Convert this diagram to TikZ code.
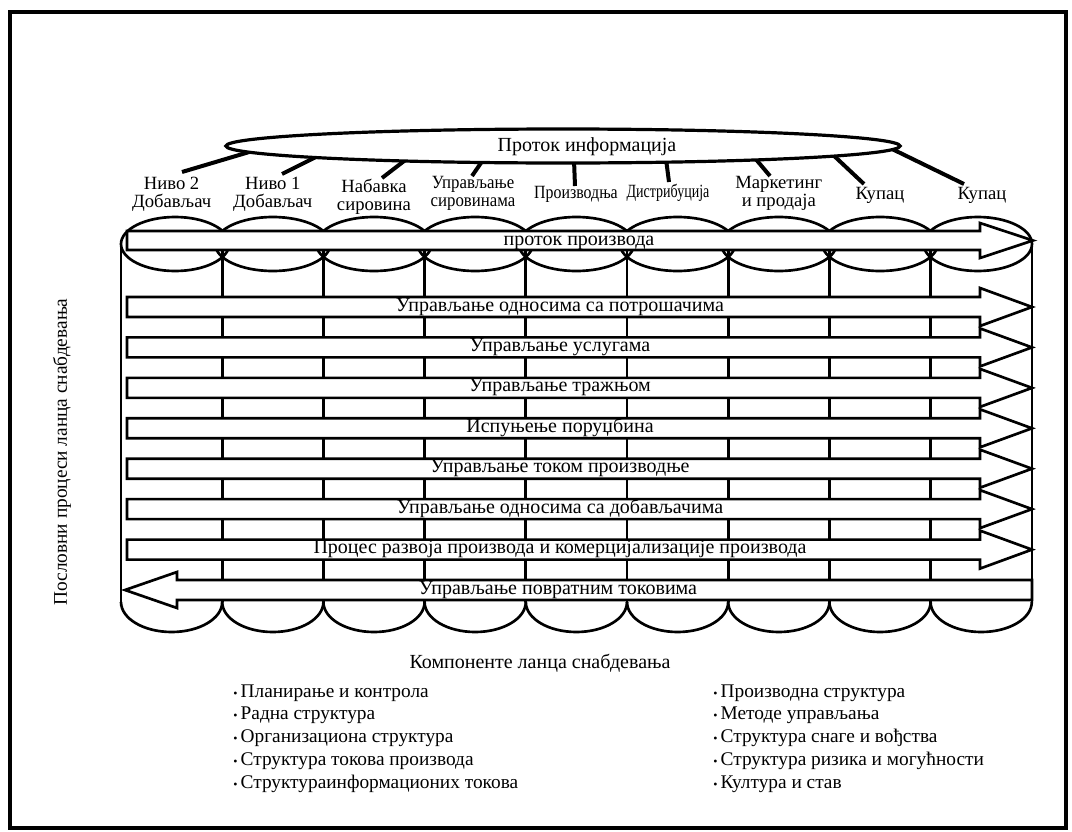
\documentclass[tikz,border=0pt]{standalone}
\usepackage{fontspec}
\usepackage{graphicx}
\setmainfont{Liberation Serif}
\usetikzlibrary{shapes.geometric}

\begin{document}
\begin{tikzpicture}[x=0.75pt,y=-0.75pt,
  cyl/.style={line width=2pt},
  arrowbox/.style={draw, fill=white, line width=2pt, line join=miter},
  conn/.style={line width=3pt},
  lbl/.style={font=\fontsize{14}{13.5}\selectfont, align=center, inner sep=0pt},
  atext/.style={font=\fontsize{15}{17}\selectfont, inner sep=0pt, anchor=base},
  btext/.style={font=\fontsize{14.5}{17}\selectfont, inner sep=0pt, anchor=base west}]
\useasboundingbox (0,0) rectangle (1072,832);
\draw[line width=3pt] (10,12) rectangle (1066,828);

% --- cylinder body: column walls, side walls
\foreach \x in {222.2,323.4,424.6,525.8,627,728.2,829.4,930.6}
  \draw[cyl] (\x,250) -- (\x,602);
\draw[cyl] (121,244) -- (121,602);
\draw[cyl] (1032,244) -- (1032,602);

% --- top rims (one ellipse per column)
\foreach \cx/\a in {175.1/54.1,272.8/57.6,374/57.6,475.2/57.6,576.4/57.6,677.6/57.6,778.8/57.6,880/57.6,977.8/54.2}
  \draw[cyl] (\cx,244) ellipse [x radius=\a, y radius=27];

% --- bottom rims
\foreach \x in {121,222.2,323.4,424.6,525.8,627,728.2,829.4,930.6}
  \draw[cyl] (\x,602) arc[start angle=180, end angle=0, x radius=50.6, y radius=30];

% --- product flow arrow
\draw[arrowbox] (127,231) -- (980,231) -- (980,223) -- (1033,240.5) -- (980,258) -- (980,250) -- (127,250) -- cycle;
\node[atext] (flow) at (579,245) {проток производа};

% --- process arrows
\foreach \yc/\nm/\t in {
  307/p1/{Управљање односима са потрошачима},
  347.4/p2/{Управљање услугама},
  387.9/p3/{Управљање тражњом},
  428.3/p4/{Испуњење поруџбина},
  468.7/p5/{Управљање током производње},
  509.1/p6/{Управљање односима са добављачима},
  549.6/p7/{Процес развоја производа и комерцијализације производа}} {
  \draw[arrowbox] (127,\yc-10) -- (980,\yc-10) -- (980,\yc-19) -- (1032,\yc)
     -- (980,\yc+19) -- (980,\yc+10) -- (127,\yc+10) -- cycle;
  \node[atext] (\nm) at (560,\yc+4) {\t};
}
% --- returns arrow (pointing left)
\draw[arrowbox] (1032,580) -- (177,580) -- (177,572) -- (125,590) -- (177,608) -- (177,600) -- (1032,600) -- cycle;
\node[atext] (ret) at (558,594) {Управљање повратним токовима};

% --- column labels
\node[lbl, anchor=north] (l1) at (171.6,177) {Ниво 2\\Добављач};
\node[lbl, anchor=north] (l2) at (272.8,177) {Ниво 1\\Добављач};
\node[lbl, anchor=north] (l3) at (374,179) {Набавка\\сировина};
\node[lbl, anchor=north] (l4) at (473,176) {\scalebox{0.9}[1]{Управљање}\\\scalebox{0.9}[1]{сировинама}};
\node[lbl, anchor=base] (l5) at (576,198) {\scalebox{0.85}[1]{Производња}};
\node[lbl, anchor=base] (l6) at (668,197) {\scalebox{0.75}[1]{Дистрибуција}};
\node[lbl, anchor=north] (l7) at (778.8,176) {Маркетинг\\и продаја};
\node[lbl, anchor=base] (l8) at (880,199) {Купац};
\node[lbl, anchor=base] (l9) at (982,199) {Купац};

% --- information flow links
\coordinate (s1) at (256,150);  \coordinate (e1) at (182,172);
\coordinate (s2) at (320,155);  \coordinate (e2) at (282,174);
\coordinate (s3) at (408,158);  \coordinate (e3) at (382,178);
\coordinate (s4) at (483,160);  \coordinate (e4) at (472,176);
\coordinate (s5) at (574,160);  \coordinate (e5) at (575,186);
\coordinate (s6) at (666,159);  \coordinate (e6) at (669,182);
\coordinate (s7) at (754,157);  \coordinate (e7) at (770,176);
\coordinate (s8) at (831,153);  \coordinate (e8) at (864,184);
\coordinate (s9) at (890,148);  \coordinate (e9) at (964,184);
\foreach \k in {1,...,9} \draw[conn] (s\k) -- (e\k);

\node[draw, ellipse, fill=white, line width=2.4pt, inner sep=0pt,
      minimum width=505.5pt, minimum height=25.5pt] (info) at (563,146) {};
\node[atext] (infot) at (587,151) {Проток информација};

% --- side caption
\node[font=\fontsize{14.5}{17}\selectfont, rotate=90, inner sep=0pt] (side) at (62,452) {Пословни процеси ланца снабдевања};

% --- components list
\node[atext] (comp) at (540,668) {Компоненте ланца снабдевања};
\foreach \i/\t in {0/{Планирање и контрола},1/{Радна структура},2/{Организациона структура},3/{Структура токова производа},4/{Структураинформационих токова}}
  \node[btext] (left\i) at (233,697+22.8*\i) {{\small•}\,\t};
\foreach \i/\t in {0/{Производна структура},1/{Методе управљања},2/{Структура снаге и вођства},3/{Структура ризика и могућности},4/{Култура и став}}
  \node[btext] (right\i) at (713,697+22.8*\i) {{\small•}\,\t};
\end{tikzpicture}
\end{document}
